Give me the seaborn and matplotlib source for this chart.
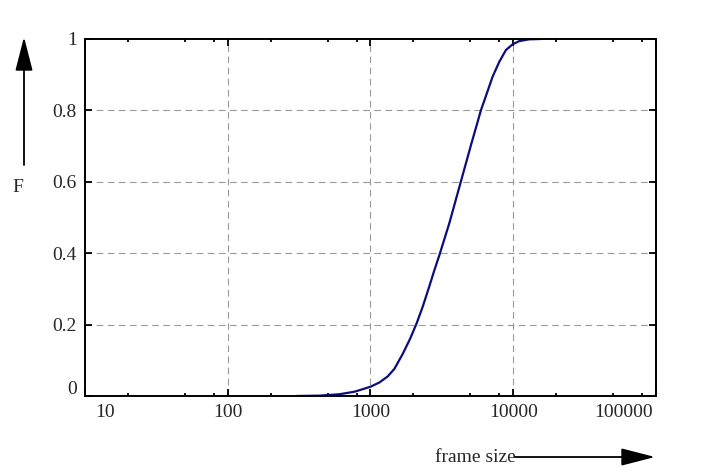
import numpy as np
import pandas as pd
import seaborn as sns
import matplotlib.pyplot as plt
from matplotlib.ticker import LogLocator, NullFormatter
from matplotlib.transforms import ScaledTranslation

frame_size = [300, 440, 607, 773, 1000, 1156, 1321, 1470, 1682, 1893, 2107,
              2321, 2558, 2805, 3040, 3566, 4305, 5058, 5943, 6430, 7160,
              7980, 8880, 9890, 11000, 12900, 15600]
cdf = [0.0, 0.001, 0.005, 0.012, 0.026, 0.038, 0.055, 0.076, 0.118, 0.16, 0.204,
       0.25, 0.302, 0.353, 0.395, 0.484, 0.602, 0.703, 0.801, 0.840, 0.894,
       0.936, 0.969, 0.985, 0.994, 0.999, 1.0]

x_ticks = [10, 100, 1000, 10000, 100000]
x_tick_labels = ["10", "100", "1000", "10000", "100000"]
y_ticks = [0, 0.2, 0.4, 0.6, 0.8, 1]
y_tick_labels = ["0", "0.2", "0.4", "0.6", "0.8", "1"]

df = pd.DataFrame({"size": frame_size, "F": cdf})

sns.set_style("ticks")
plt.rcParams["font.family"] = ["Liberation Serif", "DejaVu Serif"]
plt.rcParams["font.size"] = 14

fig = plt.figure(figsize=(7.05, 4.76), dpi=100)
ax = fig.add_axes([85 / 705, 80 / 476, 571 / 705, 357 / 476])

sns.lineplot(data=df, x="size", y="F", ax=ax, color="#0c0c7c", linewidth=1.6,
             estimator=None, sort=False)

ax.set_xscale("log")
ax.set_xlim(10, 100000)
ax.set_ylim(0, 1)
ax.set_xticks(x_ticks, x_tick_labels)
ax.set_yticks(y_ticks, y_tick_labels)
ax.xaxis.set_minor_locator(LogLocator(base=10, subs=[2, 5, 8]))
ax.xaxis.set_minor_formatter(NullFormatter())
ax.set_xlabel("")
ax.set_ylabel("")

ax.tick_params(which="both", direction="in", top=True, right=True, width=1.3,
               color="black", labelsize=14)
ax.tick_params(which="major", length=5, pad=6)
ax.tick_params(which="minor", length=2.5)
for s in ax.spines.values():
    s.set_linewidth(1.4)
    s.set_color("black")

# grid only on inner lines
for v in x_ticks[1:-1]:
    ax.axvline(v, color="#999999", lw=0.8, ls=(0, (6, 4)), zorder=0)
for v in y_ticks[1:-1]:
    ax.axhline(v, color="#999999", lw=0.8, ls=(0, (6, 4)), zorder=0)

# nudge edge labels inward like the original
xt = ax.xaxis.get_major_ticks()
xt[0].label1.set_transform(xt[0].label1.get_transform() + ScaledTranslation(0.20, 0, fig.dpi_scale_trans))
xt[-1].label1.set_transform(xt[-1].label1.get_transform() + ScaledTranslation(-0.32, 0, fig.dpi_scale_trans))
yt = ax.yaxis.get_major_ticks()
yt[0].label1.set_transform(yt[0].label1.get_transform() + ScaledTranslation(0, 0.09, fig.dpi_scale_trans))

# axis arrows
arrow_kw = dict(arrowstyle="-|>,head_length=1.05,head_width=0.27", color="black",
                lw=1.3, mutation_scale=20, shrinkA=0, shrinkB=0)
ax.annotate("", xy=(24 / 705, 439 / 476), xytext=(24 / 705, 311 / 476),
            xycoords="figure fraction", textcoords="figure fraction",
            arrowprops=arrow_kw, annotation_clip=False)
ax.annotate("", xy=(655 / 705, 19 / 476), xytext=(515 / 705, 19 / 476),
            xycoords="figure fraction", textcoords="figure fraction",
            arrowprops=arrow_kw, annotation_clip=False)
fig.text(18 / 705, 289 / 476, "F", ha="center", va="center", fontsize=14)
fig.text(475 / 705, 19 / 476, "frame size", ha="center", va="center", fontsize=14)

fig.savefig("out.png", dpi=100)
